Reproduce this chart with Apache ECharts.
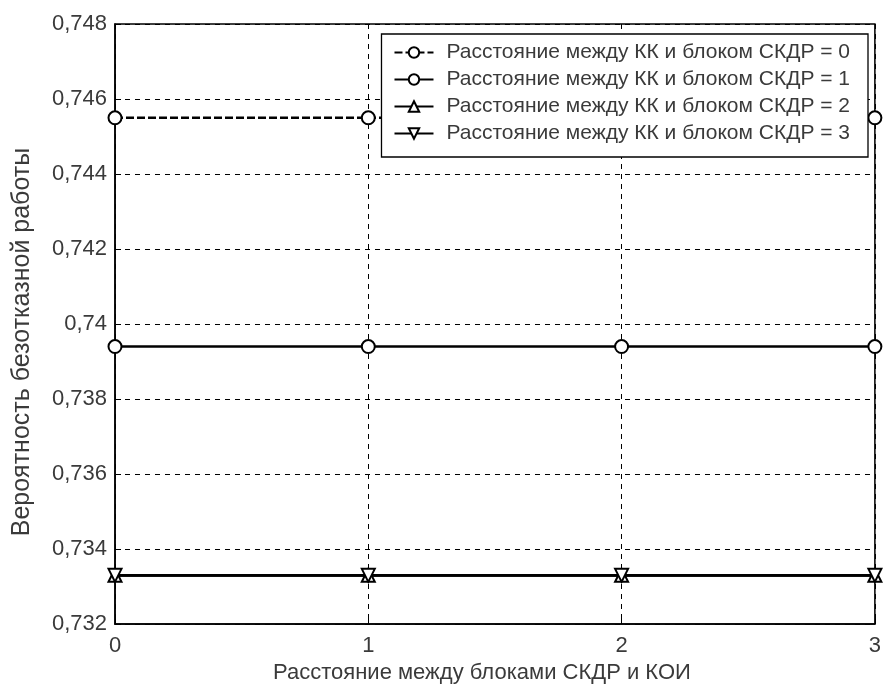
<!DOCTYPE html>
<html><head><meta charset="utf-8">
<script src="https://cdn.jsdelivr.net/npm/echarts@6/dist/echarts.min.js"></script>
<style>html,body{margin:0;padding:0;background:#fff}#c{width:884px;height:689px}</style>
</head><body><div id="c"></div>
<script>
const xValues = [0, 1, 2, 3];
const seriesNames = [
  'Расстояние между КК и блоком СКДР = 0',
  'Расстояние между КК и блоком СКДР = 1',
  'Расстояние между КК и блоком СКДР = 2',
  'Расстояние между КК и блоком СКДР = 3'
];
const s0 = [0.7455, 0.7455, 0.7455, 0.7455];
const s1 = [0.7394, 0.7394, 0.7394, 0.7394];
const s2 = [0.7333, 0.7333, 0.7333, 0.7333];
const s3 = [0.7333, 0.7333, 0.7333, 0.7333];
const allSeries = [s0, s1, s2, s3];
const xName = 'Расстояние между блоками СКДР и КОИ';
const yName = 'Вероятность безотказной работы';

const symbols = ['emptyCircle', 'emptyCircle', 'emptyTriangle', 'emptyTriangle'];
const rot = [0, 0, 0, 180];
const dash = [[8, 3], 'solid', 'solid', 'solid'];

const chart = echarts.init(document.getElementById('c'));
const font = 'Arial, "Liberation Sans", sans-serif';
const txt = '#3a3a3a';
chart.setOption({
  animation: false,
  grid: {left: 115, top: 24, right: 4, bottom: 63, show: true, borderColor: '#000', borderWidth: 1.5},
  legend: {
    orient: 'vertical', right: 16, top: 34,
    backgroundColor: '#fff', borderColor: '#000', borderWidth: 1.3,
    padding: [8, 18, 13, 12], itemGap: 6, itemWidth: 39, itemHeight: 13,
    textStyle: {fontFamily: font, fontSize: 21, color: txt, padding: [0, 0, 0, 8], lineHeight: 21},
    data: seriesNames
  },
  xAxis: {
    type: 'value', min: 0, max: 3, interval: 1,
    name: xName, nameLocation: 'middle', nameGap: 35,
    nameTextStyle: {fontFamily: font, fontSize: 22, color: txt, padding: [0, 26, 0, 0]},
    axisLine: {show: true, lineStyle: {color: '#000', width: 1.5}},
    axisTick: {show: true, inside: true, length: 6, lineStyle: {color: '#000'}},
    axisLabel: {fontFamily: font, fontSize: 22, color: txt, margin: 11},
    splitLine: {show: true, lineStyle: {color: '#000', type: [5, 5], width: 1}}
  },
  yAxis: {
    type: 'value', min: 0.732, max: 0.748, interval: 0.002,
    name: yName, nameLocation: 'middle', nameGap: 80,
    nameTextStyle: {fontFamily: font, fontSize: 25, color: txt, padding: [0, 36, 0, 0]},
    axisLine: {show: true, lineStyle: {color: '#000', width: 1.5}},
    axisTick: {show: true, inside: true, length: 6, lineStyle: {color: '#000'}},
    axisLabel: {fontFamily: font, fontSize: 22, color: txt, margin: 8,
      formatter: v => { let s = (+v.toFixed(3)).toString(); return s.replace('.', ','); }},
    splitLine: {show: true, lineStyle: {color: '#000', type: [5, 5], width: 1}}
  },
  series: allSeries.map((d, i) => ({
    name: seriesNames[i], type: 'line',
    data: d.map((v, j) => [xValues[j], v]),
    symbol: symbols[i], symbolSize: 13, symbolRotate: rot[i],
    showAllSymbol: true, clip: false,
    lineStyle: {color: '#000', width: 2.6, type: dash[i]},
    itemStyle: {color: '#000', borderColor: '#000', borderWidth: 2.5},
    z: 3 + i
  }))
});
</script></body></html>
